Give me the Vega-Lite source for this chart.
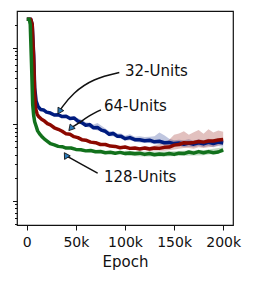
{
  "$schema": "https://vega.github.io/schema/vega-lite/v6.json",
  "width": 216,
  "height": 214,
  "padding": {"left": 12, "top": 11, "right": 5, "bottom": 5},
  "config": {
    "view": {"stroke": "#111", "strokeWidth": 1.2},
    "font": "DejaVu Sans",
    "axis": {"grid": false, "domain": false, "tickColor": "#111", "labelColor": "#111", "titleColor": "#111"}
  },
  "datasets": {
    "lines": [
      {"series": "32-Units", "epoch": 0, "value": 234},
      {"series": "32-Units", "epoch": 4000, "value": 234},
      {"series": "32-Units", "epoch": 5500, "value": 200},
      {"series": "32-Units", "epoch": 7000, "value": 80},
      {"series": "32-Units", "epoch": 8000, "value": 30},
      {"series": "32-Units", "epoch": 9500, "value": 20},
      {"series": "32-Units", "epoch": 11500, "value": 17},
      {"series": "32-Units", "epoch": 14000, "value": 15.6},
      {"series": "32-Units", "epoch": 17000, "value": 15.4},
      {"series": "32-Units", "epoch": 20000, "value": 14.4},
      {"series": "32-Units", "epoch": 24000, "value": 14.0},
      {"series": "32-Units", "epoch": 28000, "value": 13.2},
      {"series": "32-Units", "epoch": 32000, "value": 13.3},
      {"series": "32-Units", "epoch": 36000, "value": 12.6},
      {"series": "32-Units", "epoch": 40000, "value": 12.7},
      {"series": "32-Units", "epoch": 44000, "value": 11.9},
      {"series": "32-Units", "epoch": 48000, "value": 12.1},
      {"series": "32-Units", "epoch": 52000, "value": 11.0},
      {"series": "32-Units", "epoch": 56000, "value": 10.5},
      {"series": "32-Units", "epoch": 60000, "value": 9.7},
      {"series": "32-Units", "epoch": 64000, "value": 9.9},
      {"series": "32-Units", "epoch": 68000, "value": 9.0},
      {"series": "32-Units", "epoch": 72000, "value": 9.1},
      {"series": "32-Units", "epoch": 76000, "value": 8.4},
      {"series": "32-Units", "epoch": 80000, "value": 8.1},
      {"series": "32-Units", "epoch": 84000, "value": 7.4},
      {"series": "32-Units", "epoch": 88000, "value": 7.6},
      {"series": "32-Units", "epoch": 92000, "value": 7.0},
      {"series": "32-Units", "epoch": 96000, "value": 7.0},
      {"series": "32-Units", "epoch": 100000, "value": 6.5},
      {"series": "32-Units", "epoch": 105000, "value": 6.7},
      {"series": "32-Units", "epoch": 110000, "value": 6.3},
      {"series": "32-Units", "epoch": 115000, "value": 6.3},
      {"series": "32-Units", "epoch": 120000, "value": 6.1},
      {"series": "32-Units", "epoch": 125000, "value": 6.2},
      {"series": "32-Units", "epoch": 130000, "value": 5.9},
      {"series": "32-Units", "epoch": 135000, "value": 6.0},
      {"series": "32-Units", "epoch": 140000, "value": 5.75},
      {"series": "32-Units", "epoch": 145000, "value": 5.8},
      {"series": "32-Units", "epoch": 150000, "value": 5.6},
      {"series": "32-Units", "epoch": 155000, "value": 5.7},
      {"series": "32-Units", "epoch": 160000, "value": 5.5},
      {"series": "32-Units", "epoch": 165000, "value": 5.7},
      {"series": "32-Units", "epoch": 170000, "value": 5.5},
      {"series": "32-Units", "epoch": 175000, "value": 5.75},
      {"series": "32-Units", "epoch": 180000, "value": 5.55},
      {"series": "32-Units", "epoch": 185000, "value": 5.8},
      {"series": "32-Units", "epoch": 190000, "value": 5.6},
      {"series": "32-Units", "epoch": 195000, "value": 5.85},
      {"series": "32-Units", "epoch": 200000, "value": 5.7},

      {"series": "64-Units", "epoch": 0, "value": 234},
      {"series": "64-Units", "epoch": 4000, "value": 234},
      {"series": "64-Units", "epoch": 5500, "value": 200},
      {"series": "64-Units", "epoch": 7000, "value": 70},
      {"series": "64-Units", "epoch": 8000, "value": 25},
      {"series": "64-Units", "epoch": 9000, "value": 16},
      {"series": "64-Units", "epoch": 10500, "value": 13.6},
      {"series": "64-Units", "epoch": 12000, "value": 12.6},
      {"series": "64-Units", "epoch": 15000, "value": 11.6},
      {"series": "64-Units", "epoch": 18000, "value": 11.0},
      {"series": "64-Units", "epoch": 21000, "value": 10.2},
      {"series": "64-Units", "epoch": 24000, "value": 9.8},
      {"series": "64-Units", "epoch": 28000, "value": 9.0},
      {"series": "64-Units", "epoch": 32000, "value": 8.6},
      {"series": "64-Units", "epoch": 36000, "value": 8.1},
      {"series": "64-Units", "epoch": 40000, "value": 7.5},
      {"series": "64-Units", "epoch": 44000, "value": 7.4},
      {"series": "64-Units", "epoch": 48000, "value": 6.9},
      {"series": "64-Units", "epoch": 52000, "value": 6.7},
      {"series": "64-Units", "epoch": 56000, "value": 6.3},
      {"series": "64-Units", "epoch": 60000, "value": 6.2},
      {"series": "64-Units", "epoch": 65000, "value": 5.85},
      {"series": "64-Units", "epoch": 70000, "value": 5.75},
      {"series": "64-Units", "epoch": 75000, "value": 5.45},
      {"series": "64-Units", "epoch": 80000, "value": 5.45},
      {"series": "64-Units", "epoch": 85000, "value": 5.2},
      {"series": "64-Units", "epoch": 90000, "value": 5.15},
      {"series": "64-Units", "epoch": 95000, "value": 4.95},
      {"series": "64-Units", "epoch": 100000, "value": 5.05},
      {"series": "64-Units", "epoch": 105000, "value": 4.85},
      {"series": "64-Units", "epoch": 110000, "value": 4.9},
      {"series": "64-Units", "epoch": 115000, "value": 4.75},
      {"series": "64-Units", "epoch": 120000, "value": 4.9},
      {"series": "64-Units", "epoch": 125000, "value": 4.75},
      {"series": "64-Units", "epoch": 130000, "value": 4.9},
      {"series": "64-Units", "epoch": 135000, "value": 4.85},
      {"series": "64-Units", "epoch": 140000, "value": 5.0},
      {"series": "64-Units", "epoch": 145000, "value": 5.05},
      {"series": "64-Units", "epoch": 150000, "value": 5.35},
      {"series": "64-Units", "epoch": 155000, "value": 5.45},
      {"series": "64-Units", "epoch": 160000, "value": 5.75},
      {"series": "64-Units", "epoch": 165000, "value": 5.7},
      {"series": "64-Units", "epoch": 170000, "value": 5.8},
      {"series": "64-Units", "epoch": 175000, "value": 5.95},
      {"series": "64-Units", "epoch": 180000, "value": 5.85},
      {"series": "64-Units", "epoch": 185000, "value": 6.05},
      {"series": "64-Units", "epoch": 190000, "value": 6.05},
      {"series": "64-Units", "epoch": 195000, "value": 6.25},
      {"series": "64-Units", "epoch": 200000, "value": 6.35},

      {"series": "128-Units", "epoch": 0, "value": 234},
      {"series": "128-Units", "epoch": 2500, "value": 234},
      {"series": "128-Units", "epoch": 3500, "value": 200},
      {"series": "128-Units", "epoch": 5000, "value": 50},
      {"series": "128-Units", "epoch": 6000, "value": 18},
      {"series": "128-Units", "epoch": 7000, "value": 13},
      {"series": "128-Units", "epoch": 8000, "value": 10.8},
      {"series": "128-Units", "epoch": 9500, "value": 9.4},
      {"series": "128-Units", "epoch": 11000, "value": 8.2},
      {"series": "128-Units", "epoch": 13000, "value": 7.5},
      {"series": "128-Units", "epoch": 15000, "value": 7.0},
      {"series": "128-Units", "epoch": 18000, "value": 6.4},
      {"series": "128-Units", "epoch": 21000, "value": 6.0},
      {"series": "128-Units", "epoch": 24000, "value": 5.6},
      {"series": "128-Units", "epoch": 28000, "value": 5.4},
      {"series": "128-Units", "epoch": 32000, "value": 5.15},
      {"series": "128-Units", "epoch": 36000, "value": 5.1},
      {"series": "128-Units", "epoch": 40000, "value": 4.9},
      {"series": "128-Units", "epoch": 45000, "value": 4.9},
      {"series": "128-Units", "epoch": 50000, "value": 4.7},
      {"series": "128-Units", "epoch": 55000, "value": 4.65},
      {"series": "128-Units", "epoch": 60000, "value": 4.5},
      {"series": "128-Units", "epoch": 65000, "value": 4.55},
      {"series": "128-Units", "epoch": 70000, "value": 4.38},
      {"series": "128-Units", "epoch": 75000, "value": 4.42},
      {"series": "128-Units", "epoch": 80000, "value": 4.25},
      {"series": "128-Units", "epoch": 85000, "value": 4.32},
      {"series": "128-Units", "epoch": 90000, "value": 4.18},
      {"series": "128-Units", "epoch": 95000, "value": 4.3},
      {"series": "128-Units", "epoch": 100000, "value": 4.15},
      {"series": "128-Units", "epoch": 105000, "value": 4.22},
      {"series": "128-Units", "epoch": 110000, "value": 4.12},
      {"series": "128-Units", "epoch": 115000, "value": 4.2},
      {"series": "128-Units", "epoch": 120000, "value": 4.05},
      {"series": "128-Units", "epoch": 125000, "value": 4.15},
      {"series": "128-Units", "epoch": 130000, "value": 4.0},
      {"series": "128-Units", "epoch": 135000, "value": 4.1},
      {"series": "128-Units", "epoch": 140000, "value": 4.05},
      {"series": "128-Units", "epoch": 145000, "value": 4.15},
      {"series": "128-Units", "epoch": 150000, "value": 4.05},
      {"series": "128-Units", "epoch": 155000, "value": 4.2},
      {"series": "128-Units", "epoch": 160000, "value": 4.15},
      {"series": "128-Units", "epoch": 165000, "value": 4.35},
      {"series": "128-Units", "epoch": 170000, "value": 4.2},
      {"series": "128-Units", "epoch": 175000, "value": 4.4},
      {"series": "128-Units", "epoch": 180000, "value": 4.25},
      {"series": "128-Units", "epoch": 185000, "value": 4.4},
      {"series": "128-Units", "epoch": 190000, "value": 4.25},
      {"series": "128-Units", "epoch": 195000, "value": 4.35},
      {"series": "128-Units", "epoch": 200000, "value": 4.65}
    ],
    "bands": [
      {"series": "32-Units", "epoch": 50000, "lo": 10.9, "hi": 12.2},
      {"series": "32-Units", "epoch": 55000, "lo": 10.0, "hi": 11.6},
      {"series": "32-Units", "epoch": 60000, "lo": 9.3, "hi": 10.6},
      {"series": "32-Units", "epoch": 64000, "lo": 9.0, "hi": 10.5},
      {"series": "32-Units", "epoch": 68000, "lo": 8.6, "hi": 9.9},
      {"series": "32-Units", "epoch": 72000, "lo": 8.3, "hi": 10.4},
      {"series": "32-Units", "epoch": 76000, "lo": 8.0, "hi": 9.6},
      {"series": "32-Units", "epoch": 80000, "lo": 7.6, "hi": 8.8},
      {"series": "32-Units", "epoch": 84000, "lo": 7.0, "hi": 8.1},
      {"series": "32-Units", "epoch": 88000, "lo": 7.0, "hi": 8.2},
      {"series": "32-Units", "epoch": 92000, "lo": 6.6, "hi": 7.6},
      {"series": "32-Units", "epoch": 96000, "lo": 6.5, "hi": 7.6},
      {"series": "32-Units", "epoch": 100000, "lo": 6.1, "hi": 7.1},
      {"series": "32-Units", "epoch": 105000, "lo": 6.2, "hi": 7.4},
      {"series": "32-Units", "epoch": 110000, "lo": 5.9, "hi": 6.9},
      {"series": "32-Units", "epoch": 115000, "lo": 5.8, "hi": 7.0},
      {"series": "32-Units", "epoch": 120000, "lo": 5.7, "hi": 6.8},
      {"series": "32-Units", "epoch": 125000, "lo": 5.7, "hi": 6.9},
      {"series": "32-Units", "epoch": 130000, "lo": 5.5, "hi": 7.0},
      {"series": "32-Units", "epoch": 135000, "lo": 5.5, "hi": 7.8},
      {"series": "32-Units", "epoch": 140000, "lo": 5.4, "hi": 7.2},
      {"series": "32-Units", "epoch": 145000, "lo": 5.3, "hi": 6.5},
      {"series": "32-Units", "epoch": 150000, "lo": 5.2, "hi": 6.2},
      {"series": "32-Units", "epoch": 155000, "lo": 5.2, "hi": 6.3},
      {"series": "32-Units", "epoch": 160000, "lo": 5.0, "hi": 6.2},
      {"series": "32-Units", "epoch": 165000, "lo": 5.1, "hi": 6.4},
      {"series": "32-Units", "epoch": 170000, "lo": 5.0, "hi": 6.1},
      {"series": "32-Units", "epoch": 175000, "lo": 5.2, "hi": 6.4},
      {"series": "32-Units", "epoch": 180000, "lo": 5.0, "hi": 6.2},
      {"series": "32-Units", "epoch": 185000, "lo": 5.2, "hi": 6.5},
      {"series": "32-Units", "epoch": 190000, "lo": 5.0, "hi": 6.2},
      {"series": "32-Units", "epoch": 195000, "lo": 5.2, "hi": 6.5},
      {"series": "32-Units", "epoch": 200000, "lo": 5.1, "hi": 6.4},
      {"series": "64-Units", "epoch": 120000, "lo": 4.6, "hi": 5.2},
      {"series": "64-Units", "epoch": 125000, "lo": 4.5, "hi": 5.1},
      {"series": "64-Units", "epoch": 130000, "lo": 4.5, "hi": 5.3},
      {"series": "64-Units", "epoch": 135000, "lo": 4.5, "hi": 5.5},
      {"series": "64-Units", "epoch": 140000, "lo": 4.5, "hi": 5.7},
      {"series": "64-Units", "epoch": 145000, "lo": 4.6, "hi": 6.3},
      {"series": "64-Units", "epoch": 150000, "lo": 4.7, "hi": 7.3},
      {"series": "64-Units", "epoch": 155000, "lo": 4.8, "hi": 7.6},
      {"series": "64-Units", "epoch": 160000, "lo": 4.9, "hi": 8.1},
      {"series": "64-Units", "epoch": 165000, "lo": 4.9, "hi": 7.3},
      {"series": "64-Units", "epoch": 170000, "lo": 4.8, "hi": 7.9},
      {"series": "64-Units", "epoch": 175000, "lo": 5.0, "hi": 8.4},
      {"series": "64-Units", "epoch": 180000, "lo": 4.9, "hi": 7.5},
      {"series": "64-Units", "epoch": 185000, "lo": 5.0, "hi": 8.6},
      {"series": "64-Units", "epoch": 190000, "lo": 5.1, "hi": 7.8},
      {"series": "64-Units", "epoch": 195000, "lo": 5.3, "hi": 8.3},
      {"series": "64-Units", "epoch": 200000, "lo": 5.5, "hi": 8.0},
      {"series": "128-Units", "epoch": 100000, "lo": 3.9, "hi": 4.5},
      {"series": "128-Units", "epoch": 120000, "lo": 3.8, "hi": 4.4},
      {"series": "128-Units", "epoch": 140000, "lo": 3.8, "hi": 4.4},
      {"series": "128-Units", "epoch": 160000, "lo": 3.9, "hi": 4.5},
      {"series": "128-Units", "epoch": 180000, "lo": 3.95, "hi": 4.6},
      {"series": "128-Units", "epoch": 200000, "lo": 4.3, "hi": 5.0}
    ],
    "arrows": [
      {"arrow": "a32", "i": 0, "epoch": 94200, "value": 47.2},
      {"arrow": "a32", "i": 1, "epoch": 68700, "value": 37.8},
      {"arrow": "a32", "i": 2, "epoch": 48300, "value": 25.4},
      {"arrow": "a32", "i": 3, "epoch": 36400, "value": 17.0},
      {"arrow": "a32", "i": 4, "epoch": 33700, "value": 15.1},
      {"arrow": "a64", "i": 0, "epoch": 75500, "value": 15.4},
      {"arrow": "a64", "i": 1, "epoch": 63300, "value": 12.8},
      {"arrow": "a64", "i": 2, "epoch": 53100, "value": 10.4},
      {"arrow": "a64", "i": 3, "epoch": 45400, "value": 9.03},
      {"arrow": "a128", "i": 0, "epoch": 72100, "value": 2.30},
      {"arrow": "a128", "i": 1, "epoch": 56800, "value": 2.95},
      {"arrow": "a128", "i": 2, "epoch": 44900, "value": 3.60},
      {"arrow": "a128", "i": 3, "epoch": 40300, "value": 3.86}
    ],
    "heads": [
      {"arrow": "a32", "epoch": 33700, "value": 15.1, "angle": 211},
      {"arrow": "a64", "epoch": 45400, "value": 9.03, "angle": 221},
      {"arrow": "a128", "epoch": 40300, "value": 3.86, "angle": 328}
    ],
    "labels": [
      {"text": "32-Units", "epoch": 100000, "value": 49.5},
      {"text": "64-Units", "epoch": 78600, "value": 17.3},
      {"text": "128-Units", "epoch": 78600, "value": 2.07}
    ]
  },
  "layer": [
    {
      "data": {"name": "bands"},
      "mark": {"type": "area", "opacity": 0.25},
      "encoding": {
        "x": {"field": "epoch", "type": "quantitative", "scale": {"domain": [-10000, 210000], "nice": false, "zero": false},
          "axis": {"values": [0, 50000, 100000, 150000, 200000], "labelExpr": "datum.value == 0 ? '0' : (datum.value / 1000) + 'k'", "tickSize": 5, "labelFontSize": 14, "labelPadding": 5, "title": "Epoch", "titleFontSize": 15, "titleFontWeight": "normal", "titlePadding": 5}},
        "y": {"field": "lo", "type": "quantitative", "scale": {"type": "log", "domain": [0.486, 300], "nice": false},
          "axis": {"orient": "left", "values": [1, 10, 100], "tickSize": 4.5, "labels": false, "title": null}},
        "y2": {"field": "hi"},
        "color": {"field": "series", "type": "nominal", "scale": {"domain": ["32-Units", "64-Units", "128-Units"], "range": ["#001c7f", "#8c0800", "#12711c"]}, "legend": null}
      }
    },
    {
      "data": {"name": "lines"},
      "mark": {"type": "line", "strokeWidth": 3.5, "strokeJoin": "round"},
      "encoding": {
        "x": {"field": "epoch", "type": "quantitative"},
        "y": {"field": "value", "type": "quantitative",
          "axis": {"orient": "left", "values": [0.5, 0.6, 0.7, 0.8, 0.9, 2, 3, 4, 5, 6, 7, 8, 9, 20, 30, 40, 50, 60, 70, 80, 90, 200], "tickSize": 2.5, "labels": false, "title": null}},
        "color": {"field": "series", "type": "nominal", "legend": null},
        "detail": {"field": "series"}
      }
    },
    {
      "data": {"name": "arrows"},
      "mark": {"type": "line", "color": "#111", "strokeWidth": 1.5, "interpolate": "natural"},
      "encoding": {
        "x": {"field": "epoch", "type": "quantitative"},
        "y": {"field": "value", "type": "quantitative", "axis": null},
        "detail": {"field": "arrow"},
        "order": {"field": "i"}
      }
    },
    {
      "data": {"name": "heads"},
      "mark": {"type": "point", "shape": "triangle", "filled": true, "fill": "#2a7ab8", "stroke": "#111", "strokeWidth": 0.8, "size": 45, "opacity": 1},
      "encoding": {
        "x": {"field": "epoch", "type": "quantitative"},
        "y": {"field": "value", "type": "quantitative", "axis": null},
        "angle": {"field": "angle", "type": "quantitative", "scale": null}
      }
    },
    {
      "data": {"name": "labels"},
      "mark": {"type": "text", "align": "left", "baseline": "middle", "fontSize": 15, "color": "#111"},
      "encoding": {
        "x": {"field": "epoch", "type": "quantitative"},
        "y": {"field": "value", "type": "quantitative", "axis": null},
        "text": {"field": "text"}
      }
    }
  ],
  "resolve": {"axis": {"y": "independent"}}
}
